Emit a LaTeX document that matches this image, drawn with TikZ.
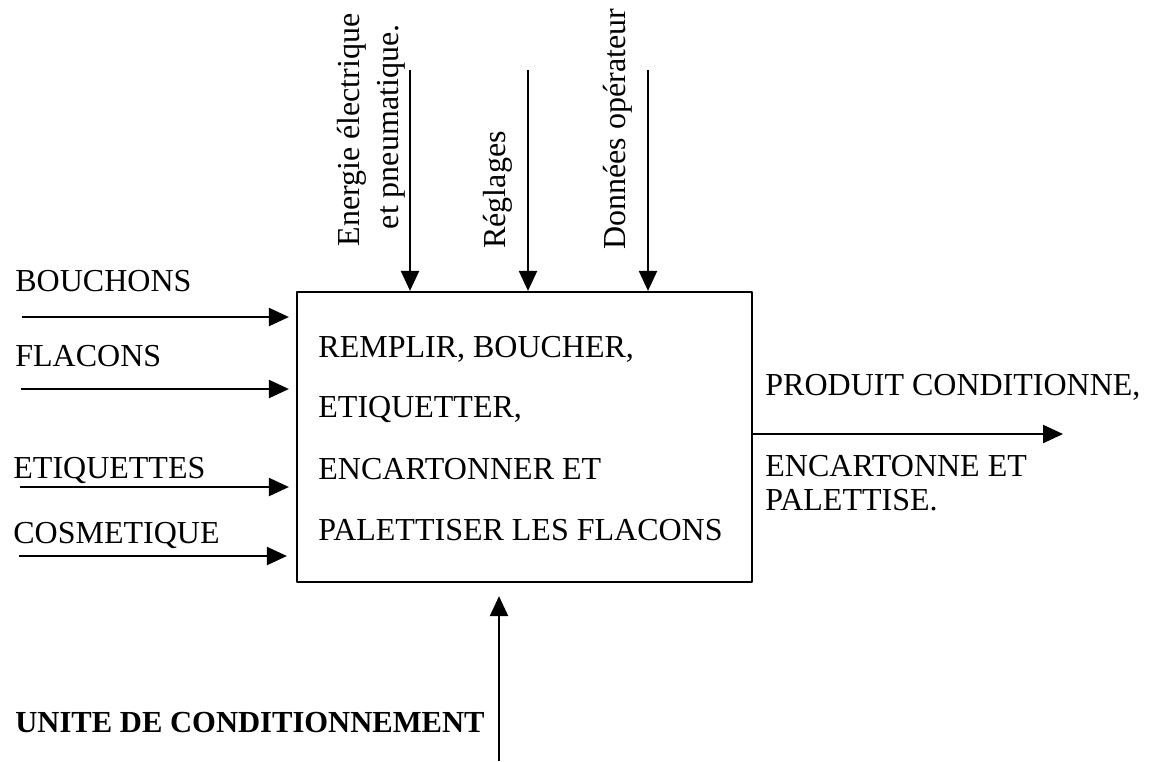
\documentclass[tikz,border=0pt]{standalone}
\usepackage{fontspec}
\setmainfont{Liberation Serif}
\usetikzlibrary{arrows.meta}

\begin{document}
\begin{tikzpicture}[x=0.5pt, y=-0.5pt, line join = round,
    flow/.style={-{Triangle[length=10pt,width=9pt]}, line width=1.1pt},
    lbl/.style={inner sep=0pt, anchor=base west, font=\fontsize{16}{19}\selectfont},
    vlbl/.style={lbl, rotate=90}]
    \useasboundingbox (0,0) rectangle (1154,761);

    \node[draw, line width=1.1pt, inner sep=0pt, minimum width=227.5pt, minimum height=145pt] (proc) at (524.5,437) {};

    \node[lbl] (t1) at (318,357) {REMPLIR, BOUCHER,};
    \node[lbl] (t2) at (318,417) {ETIQUETTER,};
    \node[lbl] (t3) at (318,479) {ENCARTONNER ET};
    \node[lbl] (t4) at (318,540) {PALETTISER LES FLACONS};

    % entrees
    \node[lbl] (bouchons) at (15,291) {BOUCHONS};
    \node[lbl] (flacons) at (15,366) {FLACONS};
    \node[lbl] (etiq) at (13,478) {ETIQUETTES};
    \node[lbl] (cosm) at (13,543) {COSMETIQUE};
    \coordinate (inB) at (22,317);
    \coordinate (inF) at (21,389);
    \coordinate (inE) at (20,487);
    \coordinate (inC) at (19,556);
    \draw[flow, shorten >=3.5pt] (inB) -- (inB -| proc.west);
    \draw[flow, shorten >=3.5pt] (inF) -- (inF -| proc.west);
    \draw[flow, shorten >=3.5pt] (inE) -- (inE -| proc.west);
    \draw[flow, shorten >=4.5pt] (inC) -- (inC -| proc.west);

    % controles
    \node[vlbl, anchor=base] (energ1) at (359,130) {Energie électrique};
    \node[vlbl, anchor=base] (energ2) at (398,127) {et pneumatique.};
    \node[vlbl] (regl) at (505,249) {Réglages};
    \node[vlbl] (donn) at (625,250) {Données opérateur};
    \coordinate (tE) at (410,70);
    \coordinate (tR) at (528,70);
    \coordinate (tD) at (648,70);
    \draw[flow] (tE) -- (tE |- proc.north);
    \draw[flow] (tR) -- (tR |- proc.north);
    \draw[flow] (tD) -- (tD |- proc.north);

    % sortie
    \node[lbl] (prod1) at (765,395) {PRODUIT CONDITIONNE,};
    \node[lbl] (prod2) at (765,476) {ENCARTONNE ET};
    \node[lbl] (prod3) at (765,510) {PALETTISE.};
    \coordinate (outP) at (1063,434);
    \draw[flow] (proc.east |- outP) -- (outP);

    % mecanisme
    \node[lbl, font=\fontsize{15.3}{18}\selectfont\bfseries] (unite) at (15,732) {UNITE DE CONDITIONNEMENT};
    \coordinate (bU) at (499,761);
    \draw[flow, shorten >=6.5pt] (bU) -- (bU |- proc.south);
\end{tikzpicture}
\end{document}
